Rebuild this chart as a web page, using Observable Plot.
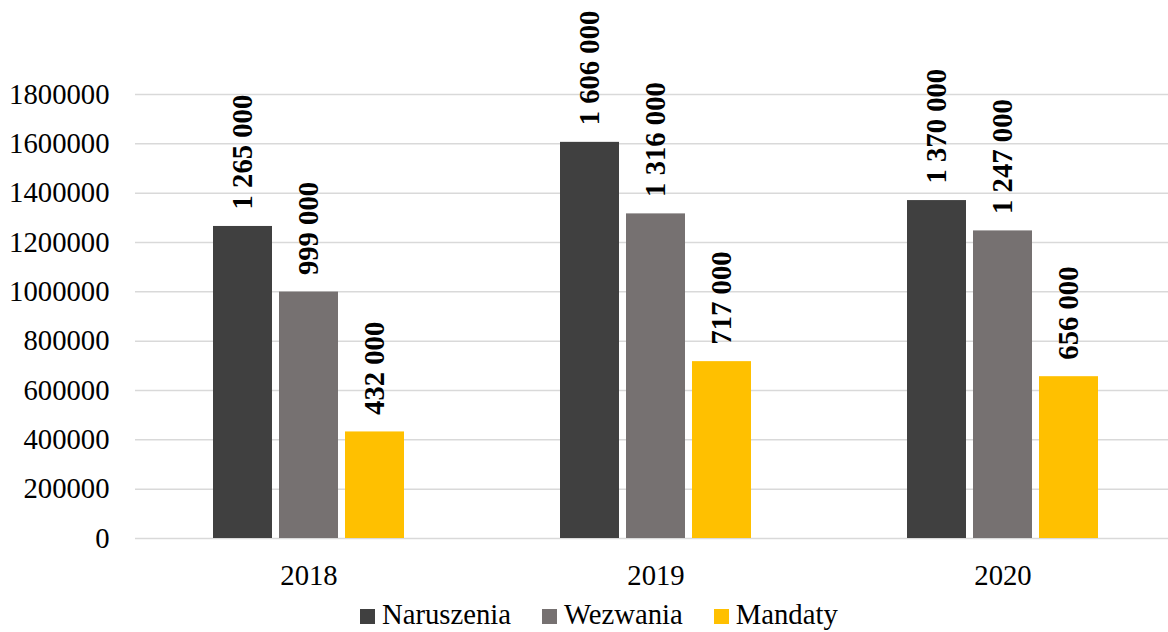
<!DOCTYPE html>
<html><head><meta charset="utf-8">
<script src="https://cdn.jsdelivr.net/npm/d3@7"></script>
<script src="https://cdn.jsdelivr.net/npm/@observablehq/plot@0.6"></script>
<style>
html,body{margin:0;padding:0;background:#fff;overflow:hidden;}
#legend{height:34px;font-family:"Liberation Serif",serif;font-size:28.7px;line-height:33px;color:#000;display:flex;padding-left:360px;}
.item{display:flex;align-items:baseline;margin-right:31px;}
.sw{display:inline-block;width:15px;height:15px;margin-right:7px;}
</style></head><body><div id="chart"></div><div id="legend"></div>
<script>
const years = ["2018", "2019", "2020"];
const series = ["Naruszenia", "Wezwania", "Mandaty"];
const naruszenia = [1265000, 1606000, 1370000];
const wezwania = [999000, 1316000, 1247000];
const mandaty = [432000, 717000, 656000];
const colors = ["#404040", "#767171", "#FFC000"];
const yTicks = [0, 200000, 400000, 600000, 800000, 1000000, 1200000, 1400000, 1600000, 1800000];

const valuesBySeries = [naruszenia, wezwania, mandaty];
const data = [];
years.forEach((yr, i) => series.forEach((s, j) => data.push({year: yr, series: s, value: valuesBySeries[j][i]})));
const fmt = v => d3.format(",")(v).replace(/,/g, " ");

const chart = Plot.plot({
  width: 1168, height: 598,
  marginLeft: 134, marginRight: -8, marginTop: 94, marginBottom: 60,
  style: {fontFamily: "'Liberation Serif', serif", fontSize: "28.7px", color: "#000", background: "#fff", overflow: "visible"},
  fx: {domain: years, padding: 0, label: null, axis: null},
  x: {domain: series, paddingInner: 0.1045, paddingOuter: 1.144, axis: null},
  y: {domain: [0, 1800000], axis: null},
  color: {domain: series, range: colors},
  marks: [
    Plot.gridY(yTicks, {stroke: "#d9d9d9", strokeOpacity: 1, strokeWidth: 1.5}),
    Plot.barY(data, {fx: "year", x: "series", y: "value", fill: "series"}),
    Plot.text(data, {fx: "year", x: "series", y: "value", text: d => fmt(d.value), rotate: -90, textAnchor: "start", lineAnchor: "middle", dy: -17, fontWeight: "bold", fontFamily: "Liberation Serif", fontSize: 28.7, fill: "#000"}),
    Plot.axisY(yTicks, {tickSize: 0, tickPadding: 26, tickFormat: d => String(d), label: null}),
    Plot.axisFx({anchor: "bottom", tickSize: 0, tickPadding: 26, label: null})
  ]
});
document.getElementById("chart").appendChild(chart);

const legend = document.getElementById("legend");
series.forEach((s, j) => {
  const it = document.createElement("div");
  it.className = "item";
  const sw = document.createElement("span");
  sw.className = "sw";
  sw.style.background = colors[j];
  it.appendChild(sw);
  it.appendChild(document.createTextNode(s));
  legend.appendChild(it);
});
</script></body></html>
